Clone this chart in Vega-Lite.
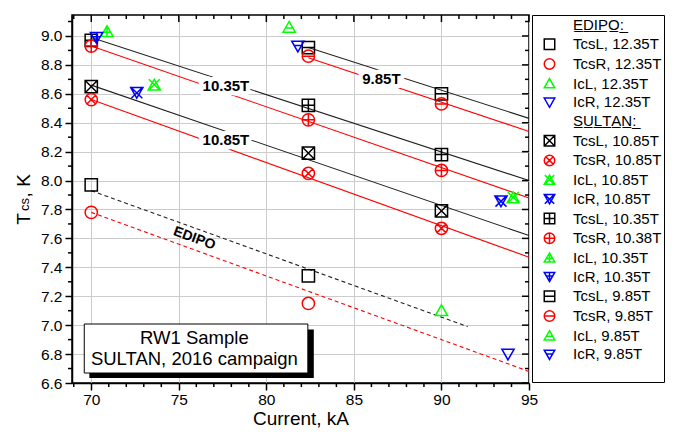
{
  "$schema": "https://vega.github.io/schema/vega-lite/v6.json",
  "width": 457,
  "height": 368,
  "padding": {"left": 14, "top": 14, "right": 1, "bottom": 0},
  "background": "white",
  "config": {
    "font": "Liberation Sans",
    "view": {"stroke": "black", "strokeWidth": 1.5},
    "legend": {
      "orient": "right", "offset": 0, "padding": 2, "strokeColor": "black", "strokeWidth": 1,
      "rowPadding": 2.7, "labelFontSize": 15, "labelColor": "black", "labelOffset": 16, "labelLimit": 400,
      "symbolSize": 110, "symbolStrokeWidth": 1.5, "symbolOffset": 8,
      "titleOrient": "bottom", "titleFontSize": 18, "titlePadding": 0
    }
  },
  "datasets": {
    "points": [
      {"series": "TcsL, 12.35T", "current": 70, "temp": 7.97},
      {"series": "TcsL, 12.35T", "current": 82.4, "temp": 7.34},
      {"series": "TcsR, 12.35T", "current": 70, "temp": 7.78},
      {"series": "TcsR, 12.35T", "current": 82.4, "temp": 7.15},
      {"series": "IcL, 12.35T", "current": 90, "temp": 7.10},
      {"series": "IcR, 12.35T", "current": 93.8, "temp": 6.80},
      {"series": "TcsL, 10.85T", "current": 70, "temp": 8.65},
      {"series": "TcsL, 10.85T", "current": 82.4, "temp": 8.19},
      {"series": "TcsL, 10.85T", "current": 90, "temp": 7.79},
      {"series": "TcsR, 10.85T", "current": 70, "temp": 8.56},
      {"series": "TcsR, 10.85T", "current": 82.4, "temp": 8.05},
      {"series": "TcsR, 10.85T", "current": 90, "temp": 7.67},
      {"series": "IcL, 10.85T", "current": 73.6, "temp": 8.66},
      {"series": "IcL, 10.85T", "current": 94.1, "temp": 7.88},
      {"series": "IcR, 10.85T", "current": 72.6, "temp": 8.61},
      {"series": "IcR, 10.85T", "current": 93.4, "temp": 7.86},
      {"series": "TcsL, 10.35T", "current": 70, "temp": 8.97},
      {"series": "TcsL, 10.35T", "current": 82.4, "temp": 8.52},
      {"series": "TcsL, 10.35T", "current": 90, "temp": 8.18},
      {"series": "TcsR, 10.38T", "current": 70, "temp": 8.93},
      {"series": "TcsR, 10.38T", "current": 82.4, "temp": 8.42},
      {"series": "TcsR, 10.38T", "current": 90, "temp": 8.07},
      {"series": "IcL, 10.35T", "current": 70.9, "temp": 9.03},
      {"series": "IcR, 10.35T", "current": 70.3, "temp": 8.99},
      {"series": "TcsL, 9.85T", "current": 82.4, "temp": 8.92},
      {"series": "TcsL, 9.85T", "current": 90, "temp": 8.60},
      {"series": "TcsR, 9.85T", "current": 82.4, "temp": 8.86},
      {"series": "TcsR, 9.85T", "current": 90, "temp": 8.53},
      {"series": "IcL, 9.85T", "current": 81.3, "temp": 9.06},
      {"series": "IcR, 9.85T", "current": 81.8, "temp": 8.93}
    ],
    "fits": [
      {"group": "SULTAN L", "fit": "10.35T", "current": 70, "temp": 8.99},
      {"group": "SULTAN L", "fit": "10.35T", "current": 95, "temp": 8.00},
      {"group": "SULTAN L", "fit": "10.85T", "current": 70, "temp": 8.66},
      {"group": "SULTAN L", "fit": "10.85T", "current": 95, "temp": 7.62},
      {"group": "SULTAN L", "fit": "9.85T", "current": 82.4, "temp": 8.92},
      {"group": "SULTAN L", "fit": "9.85T", "current": 95, "temp": 8.43},
      {"group": "SULTAN R", "fit": "10.35T", "current": 70, "temp": 8.93},
      {"group": "SULTAN R", "fit": "10.35T", "current": 95, "temp": 7.88},
      {"group": "SULTAN R", "fit": "10.85T", "current": 70, "temp": 8.56},
      {"group": "SULTAN R", "fit": "10.85T", "current": 95, "temp": 7.47},
      {"group": "SULTAN R", "fit": "9.85T", "current": 82.4, "temp": 8.85},
      {"group": "SULTAN R", "fit": "9.85T", "current": 95, "temp": 8.34},
      {"group": "EDIPO L", "fit": "12.35T", "current": 70, "temp": 7.93},
      {"group": "EDIPO L", "fit": "12.35T", "current": 91.5, "temp": 6.99},
      {"group": "EDIPO R", "fit": "12.35T", "current": 70, "temp": 7.78},
      {"group": "EDIPO R", "fit": "12.35T", "current": 95, "temp": 6.68}
    ],
    "fieldLabels": [
      {"text": "10.35T", "current": 77.69, "temp": 8.654},
      {"text": "10.85T", "current": 77.69, "temp": 8.281},
      {"text": "9.85T", "current": 86.57, "temp": 8.70}
    ],
    "edipoLabel": [
      {"text": "EDIPO", "current": 75.89, "temp": 7.60}
    ],
    "boxes": [
      {"part": "shadow", "current": 69.89, "current2": 82.71, "temp": 6.635, "temp2": 6.97},
      {"part": "box", "current": 69.6, "current2": 82.37, "temp": 6.669, "temp2": 7.008}
    ],
    "boxText": [
      {"text": "RW1 Sample", "current": 75.89, "temp": 6.911},
      {"text": "SULTAN, 2016 campaign", "current": 75.89, "temp": 6.766}
    ],
    "xMajorTicks": [{"current": 70}, {"current": 75}, {"current": 80}, {"current": 85}, {"current": 90}, {"current": 95}],
    "xMinorTicks": [{"current": 69}, {"current": 71}, {"current": 72}, {"current": 73}, {"current": 74}, {"current": 76}, {"current": 77}, {"current": 78}, {"current": 79}, {"current": 81}, {"current": 82}, {"current": 83}, {"current": 84}, {"current": 86}, {"current": 87}, {"current": 88}, {"current": 89}, {"current": 91}, {"current": 92}, {"current": 93}, {"current": 94}],
    "yMajorTicks": [{"temp": 6.6}, {"temp": 6.8}, {"temp": 7.0}, {"temp": 7.2}, {"temp": 7.4}, {"temp": 7.6}, {"temp": 7.8}, {"temp": 8.0}, {"temp": 8.2}, {"temp": 8.4}, {"temp": 8.6}, {"temp": 8.8}, {"temp": 9.0}],
    "yMinorTicks": [{"temp": 6.7}, {"temp": 6.9}, {"temp": 7.1}, {"temp": 7.3}, {"temp": 7.5}, {"temp": 7.7}, {"temp": 7.9}, {"temp": 8.1}, {"temp": 8.3}, {"temp": 8.5}, {"temp": 8.7}, {"temp": 8.9}, {"temp": 9.1}]
  },
  "layer": [
    {
      "layer": [
        {
          "data": {"name": "fits"},
          "transform": [{"filter": "datum.group === 'SULTAN L'"}],
          "mark": {"type": "line", "color": "#222222", "strokeWidth": 1.1},
          "encoding": {
            "x": {
              "field": "current", "type": "quantitative",
              "scale": {"domain": [68.9, 95], "nice": false, "zero": false},
              "axis": {
                "title": "Current, kA", "titleFontSize": 19, "titleFontWeight": "normal", "titleColor": "black", "titlePadding": 2,
                "values": [70, 75, 80, 85, 90, 95], "tickCount": 200, "format": "d",
                "labelFontSize": 15.5, "labelColor": "black", "labelPadding": 2, "labelOverlap": false, "labelFlush": false,
                "ticks": true, "tickSize": 7, "tickColor": "black", "tickWidth": 1.5,
                "domainColor": "black", "domainWidth": 1.5,
                "grid": true, "gridColor": "#cccccc", "gridWidth": 1
              }
            },
            "y": {
              "field": "temp", "type": "quantitative",
              "scale": {"domain": [6.6, 9.145], "nice": false, "zero": false},
              "axis": {
                "title": "T\u00a0\u00a0\u00a0, K", "titleFontSize": 19, "titleFontWeight": "normal", "titleColor": "black", "titlePadding": 7,
                "values": [6.6, 6.8, 7.0, 7.2, 7.4, 7.6, 7.8, 8.0, 8.2, 8.4, 8.6, 8.8, 9.0], "tickCount": 200, "format": ".1f",
                "labelFontSize": 15.5, "labelColor": "black", "labelPadding": 3, "labelOverlap": false, "labelFlush": false,
                "ticks": true, "tickSize": 7, "tickColor": "black", "tickWidth": 1.5,
                "domainColor": "black", "domainWidth": 1.5,
                "grid": true, "gridColor": "#cccccc", "gridWidth": 1
              }
            },
            "detail": {"field": "fit"}
          }
        },
        {
          "data": {"name": "fits"},
          "transform": [{"filter": "datum.group === 'SULTAN R'"}],
          "mark": {"type": "line", "color": "#ff0000", "strokeWidth": 1.1},
          "encoding": {
            "x": {"field": "current", "type": "quantitative"},
            "y": {"field": "temp", "type": "quantitative"},
            "detail": {"field": "fit"}
          }
        },
        {
          "data": {"name": "fits"},
          "transform": [{"filter": "datum.group === 'EDIPO L'"}],
          "mark": {"type": "line", "color": "#222222", "strokeWidth": 1.1, "strokeDash": [4, 3]},
          "encoding": {
            "x": {"field": "current", "type": "quantitative"},
            "y": {"field": "temp", "type": "quantitative"}
          }
        },
        {
          "data": {"name": "fits"},
          "transform": [{"filter": "datum.group === 'EDIPO R'"}],
          "mark": {"type": "line", "color": "#ff0000", "strokeWidth": 1.1, "strokeDash": [4, 3]},
          "encoding": {
            "x": {"field": "current", "type": "quantitative"},
            "y": {"field": "temp", "type": "quantitative"}
          }
        },
        {
          "data": {"name": "xMinorTicks"},
          "mark": {"type": "rule", "color": "black", "strokeWidth": 1.5, "opacity": 1},
          "encoding": {"x": {"field": "current", "type": "quantitative"}, "y": {"datum": 6.6, "type": "quantitative"}, "y2": {"datum": 6.572}}
        },
        {
          "data": {"name": "xMinorTicks"},
          "mark": {"type": "rule", "color": "black", "strokeWidth": 1.5, "opacity": 1},
          "encoding": {"x": {"field": "current", "type": "quantitative"}, "y": {"datum": 9.145, "type": "quantitative"}, "y2": {"datum": 9.117}}
        },
        {
          "data": {"name": "xMajorTicks"},
          "mark": {"type": "rule", "color": "black", "strokeWidth": 1.5, "opacity": 1},
          "encoding": {"x": {"field": "current", "type": "quantitative"}, "y": {"datum": 9.145, "type": "quantitative"}, "y2": {"datum": 9.097}}
        },
        {
          "data": {"name": "yMinorTicks"},
          "mark": {"type": "rule", "color": "black", "strokeWidth": 1.5, "opacity": 1},
          "encoding": {"y": {"field": "temp", "type": "quantitative"}, "x": {"datum": 68.9, "type": "quantitative"}, "x2": {"datum": 68.67}}
        },
        {
          "data": {"name": "yMinorTicks"},
          "mark": {"type": "rule", "color": "black", "strokeWidth": 1.5, "opacity": 1},
          "encoding": {"y": {"field": "temp", "type": "quantitative"}, "x": {"datum": 95, "type": "quantitative"}, "x2": {"datum": 94.77}}
        },
        {
          "data": {"name": "yMajorTicks"},
          "mark": {"type": "rule", "color": "black", "strokeWidth": 1.5, "opacity": 1},
          "encoding": {"y": {"field": "temp", "type": "quantitative"}, "x": {"datum": 95, "type": "quantitative"}, "x2": {"datum": 94.6}}
        },
        {
          "data": {"name": "fieldLabels"},
          "mark": {"type": "text", "fontSize": 15, "fontWeight": "bold", "fill": "white", "stroke": "white", "strokeWidth": 9, "strokeJoin": "round"},
          "encoding": {
            "x": {"field": "current", "type": "quantitative"},
            "y": {"field": "temp", "type": "quantitative"},
            "text": {"field": "text"}
          }
        },
        {
          "data": {"name": "fieldLabels"},
          "mark": {"type": "text", "fontSize": 15, "fontWeight": "bold", "color": "black"},
          "encoding": {
            "x": {"field": "current", "type": "quantitative"},
            "y": {"field": "temp", "type": "quantitative"},
            "text": {"field": "text"}
          }
        },
        {
          "data": {"name": "edipoLabel"},
          "mark": {"type": "text", "fontSize": 14, "fontWeight": "bold", "color": "black", "angle": 20},
          "encoding": {
            "x": {"field": "current", "type": "quantitative"},
            "y": {"field": "temp", "type": "quantitative"},
            "text": {"field": "text"}
          }
        },
        {
          "data": {"name": "points"},
          "mark": {"type": "point", "filled": false, "strokeWidth": 1.5, "size": 150, "opacity": 1},
          "encoding": {
            "x": {"field": "current", "type": "quantitative"},
            "y": {"field": "temp", "type": "quantitative"},
            "color": {
              "field": "series", "type": "nominal",
              "scale": {
                "domain": ["EDIPO:", "TcsL, 12.35T", "TcsR, 12.35T", "IcL, 12.35T", "IcR, 12.35T", "SULTAN:", "TcsL, 10.85T", "TcsR, 10.85T", "IcL, 10.85T", "IcR, 10.85T", "TcsL, 10.35T", "TcsR, 10.38T", "IcL, 10.35T", "IcR, 10.35T", "TcsL, 9.85T", "TcsR, 9.85T", "IcL, 9.85T", "IcR, 9.85T"],
                "range": ["white", "black", "#ff0000", "#00ff00", "#0000ff", "white", "black", "#ff0000", "#00ff00", "#0000ff", "black", "#ff0000", "#00ff00", "#0000ff", "black", "#ff0000", "#00ff00", "#0000ff"]
              },
              "legend": {
                "title": "\u00a0",
                "labelExpr": "datum.value === 'EDIPO:' ? 'E\u0332D\u0332I\u0332P\u0332O\u0332:\u0332' : datum.value === 'SULTAN:' ? 'S\u0332U\u0332L\u0332T\u0332A\u0332N\u0332:\u0332' : datum.label",
                "encode": {
                  "labels": {
                    "fontWeight": {"condition": {"test": "indexof(['EDIPO:', 'SULTAN:'], datum.value) >= 0", "value": "bold"}, "value": "normal"},
                    "fontSize": {"condition": {"test": "indexof(['EDIPO:', 'SULTAN:'], datum.value) >= 0", "value": 17}, "value": 15}
                  }
                }
              }
            },
            "shape": {
              "field": "series", "type": "nominal",
              "scale": {
                "domain": ["EDIPO:", "TcsL, 12.35T", "TcsR, 12.35T", "IcL, 12.35T", "IcR, 12.35T", "SULTAN:", "TcsL, 10.85T", "TcsR, 10.85T", "IcL, 10.85T", "IcR, 10.85T", "TcsL, 10.35T", "TcsR, 10.38T", "IcL, 10.35T", "IcR, 10.35T", "TcsL, 9.85T", "TcsR, 9.85T", "IcL, 9.85T", "IcR, 9.85T"],
                "range": [
                  "M0,0",
                  "M-1,-1H1V1H-1Z",
                  "M1,0A1,1,0,1,1,-1,0A1,1,0,1,1,1,0Z",
                  "M0,-0.95L1,0.8L-1,0.8Z",
                  "M0,0.95L1,-0.8L-1,-0.8Z",
                  "M0,0",
                  "M-1,-1H1V1H-1ZM-1,-1L1,1M1,-1L-1,1",
                  "M1,0A1,1,0,1,1,-1,0A1,1,0,1,1,1,0ZM-0.71,-0.71L0.71,0.71M0.71,-0.71L-0.71,0.71",
                  "M0,-0.95L1,0.8L-1,0.8ZM-0.9,-0.95L0.9,0.8M0.9,-0.95L-0.9,0.8",
                  "M0,0.95L1,-0.8L-1,-0.8ZM-0.9,0.95L0.9,-0.8M0.9,0.95L-0.9,-0.8",
                  "M-1,-1H1V1H-1ZM0,-1V1M-1,0H1",
                  "M1,0A1,1,0,1,1,-1,0A1,1,0,1,1,1,0ZM0,-1V1M-1,0H1",
                  "M0,-0.95L1,0.8L-1,0.8ZM0,-0.95V0.8M-0.6,0.1H0.6",
                  "M0,0.95L1,-0.8L-1,-0.8ZM0,0.95V-0.8M-0.6,-0.1H0.6",
                  "M-1,-1H1V1H-1ZM-1,0H1",
                  "M1,0A1,1,0,1,1,-1,0A1,1,0,1,1,1,0ZM-1,0H1",
                  "M0,-0.95L1,0.8L-1,0.8ZM-0.6,0.1H0.6",
                  "M0,0.95L1,-0.8L-1,-0.8ZM-0.6,-0.1H0.6"
                ]
              },
              "legend": {
                "title": "\u00a0",
                "labelExpr": "datum.value === 'EDIPO:' ? 'E\u0332D\u0332I\u0332P\u0332O\u0332:\u0332' : datum.value === 'SULTAN:' ? 'S\u0332U\u0332L\u0332T\u0332A\u0332N\u0332:\u0332' : datum.label",
                "encode": {
                  "labels": {
                    "fontWeight": {"condition": {"test": "indexof(['EDIPO:', 'SULTAN:'], datum.value) >= 0", "value": "bold"}, "value": "normal"},
                    "fontSize": {"condition": {"test": "indexof(['EDIPO:', 'SULTAN:'], datum.value) >= 0", "value": 17}, "value": 15}
                  }
                }
              }
            }
          }
        },
        {
          "data": {"name": "boxes"},
          "transform": [{"filter": "datum.part === 'shadow'"}],
          "mark": {"type": "rect", "fill": "black"},
          "encoding": {
            "x": {"field": "current", "type": "quantitative"},
            "x2": {"field": "current2"},
            "y": {"field": "temp", "type": "quantitative"},
            "y2": {"field": "temp2"}
          }
        },
        {
          "data": {"name": "boxes"},
          "transform": [{"filter": "datum.part === 'box'"}],
          "mark": {"type": "rect", "fill": "white", "stroke": "black", "strokeWidth": 1},
          "encoding": {
            "x": {"field": "current", "type": "quantitative"},
            "x2": {"field": "current2"},
            "y": {"field": "temp", "type": "quantitative"},
            "y2": {"field": "temp2"}
          }
        },
        {
          "data": {"name": "boxText"},
          "mark": {"type": "text", "fontSize": 18.5, "color": "black"},
          "encoding": {
            "x": {"field": "current", "type": "quantitative"},
            "y": {"field": "temp", "type": "quantitative"},
            "text": {"field": "text"}
          }
        }
      ]
    },
    {
      "data": {"name": "points"},
      "mark": {"type": "point", "opacity": 0},
      "encoding": {
        "x": {
          "field": "current", "type": "quantitative",
          "axis": null
        },
        "y": {
          "field": "temp", "type": "quantitative",
          "axis": {
            "orient": "right", "labels": false, "domain": false, "grid": false, "ticks": false,
            "title": "cs", "titleFontSize": 13, "titleFontWeight": "normal", "titleColor": "black",
            "titleAngle": 270, "titleX": -505, "titleY": 189, "titleAlign": "center", "titleBaseline": "middle"
          }
        }
      }
    }
  ],
  "resolve": {"axis": {"x": "independent", "y": "independent"}}
}
